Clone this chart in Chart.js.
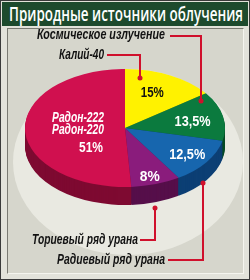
<!DOCTYPE html>
<html><head><meta charset="utf-8">
<script src="https://cdn.jsdelivr.net/npm/chart.js@4.4.1/dist/chart.umd.min.js"></script>
<style>
html,body{margin:0;padding:0;background:#e2e2da;}
#wrap{position:relative;width:250px;height:280px;box-sizing:border-box;border:1px solid #3a3a3a;background:#e2e2da;overflow:hidden;}
#title{position:absolute;left:1px;top:1px;width:246px;height:24px;background:#1d4a2d;overflow:hidden;}
#title span{position:absolute;left:7px;top:0;color:#fff;white-space:nowrap;transform-origin:0 50%;
 font:600 20px 'Open Sans','DejaVu Sans',sans-serif;line-height:24px;}
#panel{position:absolute;left:6px;top:27px;width:235px;height:244px;background:#d6d6cc;
 border-left:1px solid #7a7a72;border-top:1px solid #7a7a72;border-right:1px solid #f4f4ee;border-bottom:1px solid #f4f4ee;}
canvas{position:absolute;left:-1px;top:-1px;}
</style></head>
<body><div id="wrap">
<div id="title"><span id="tt">Природные источники облучения</span></div>
<div id="panel"></div>
<canvas id="c" width="250" height="280"></canvas>
</div>
<script>
const categories = ['Калий-40','Космическое излучение','Радиевый ряд урана','Ториевый ряд урана','Радон-222 Радон-220'];
const values = [15, 13.5, 12.5, 8, 51];
const valueLabels = ['15%','13,5%','12,5%','8%','51%'];

const topColors = ['#fff200','#0b7a3e','#1766ae','#8a1c7c','#d0104f'];
const sideColors = ['#b3a600','#064a25','#0c3f74','#560f4a','#7e0a31'];
const SY = 0.59, DEPTH = 18;

(function(){
  const t = document.getElementById('tt');
  const w = t.getBoundingClientRect().width;
  t.style.transform = 'scaleX(' + (234 / w) + ')';
})();

const labelStyle = [
  {r:0.6, dx:0, dy:-3, color:'#111', w:23},
  {r:0.69, dx:0, dy:2, color:'#fff', w:36},
  {r:0.76, dx:0, dy:1, color:'#fff', w:36},
  {r:0.8, dx:0, dy:4, color:'#fff', w:20},
  {r:0.45, dx:0, dy:0, color:'#fff', w:24}
];
const callouts = [
  {text:'Космическое излучение', x:37, w:128, y:35, line:[[170,36],[201,36],[201,101]]},
  {text:'Калий-40', x:59, w:45, y:55, line:[[107,55],[140,55],[140,78]]},
  {text:'Ториевый ряд урана', x:32, w:106, y:240, line:[[140,240],[155,240],[155,208]]},
  {text:'Радиевый ряд урана', x:57, w:108, y:260, line:[[168,260],[203,260],[203,183]]}
];

function fitText(ctx, text, x, y, w, font, color, align){
  ctx.save();
  ctx.font = font; ctx.fillStyle = color; ctx.textBaseline='middle'; ctx.textAlign='left';
  const m = ctx.measureText(text).width;
  const left = align === 'center' ? x - w/2 : x;
  ctx.translate(left, y); ctx.scale(w/m, 1);
  ctx.fillText(text, 0, 0);
  ctx.restore();
}

const pie3d = {
  id:'pie3d',
  beforeDatasetsDraw(chart){
    const ctx = chart.ctx;
    const meta = chart.getDatasetMeta(0);
    const el0 = meta.data[0];
    const cx = el0.x, cy = el0.y, R = el0.outerRadius;
    ctx.save();
    ctx.fillStyle = '#e9e9e1';
    ctx.beginPath();
    ctx.ellipse(cx+3, cy+34, R+15, R*SY+34, 0, 0, Math.PI*2);
    ctx.fill();
    for (let d = DEPTH; d >= 1; d--) {
      meta.data.forEach((el,i)=>{
        ctx.fillStyle = sideColors[i];
        ctx.beginPath();
        ctx.moveTo(cx, cy+d);
        ctx.ellipse(cx, cy+d, R, R*SY, 0, el.startAngle, el.endAngle);
        ctx.closePath();
        ctx.fill();
      });
    }
    ctx.restore();
    ctx.save();
    ctx.translate(0, cy); ctx.scale(1, SY); ctx.translate(0, -cy);
  },
  afterDatasetsDraw(chart){
    const ctx = chart.ctx;
    ctx.restore();
    const meta = chart.getDatasetMeta(0);
    const el0 = meta.data[0];
    const cx = el0.x, cy = el0.y, R = el0.outerRadius;
    const pctFont = "bold 14px 'Liberation Sans',sans-serif";
    const itFont = "italic bold 14px 'Liberation Sans',sans-serif";
    meta.data.forEach((el,i)=>{
      const a = (el.startAngle + el.endAngle)/2;
      const s = labelStyle[i];
      const x = cx + R*s.r*Math.cos(a) + s.dx;
      const y = cy + R*SY*s.r*Math.sin(a) + s.dy;
      if (i === 4) {
        const parts = categories[4].split(' ');
        fitText(ctx, parts[0], x-2, y-11, 52, itFont, s.color, 'center');
        fitText(ctx, parts[1], x-2, y+1, 52, itFont, s.color, 'center');
        fitText(ctx, valueLabels[i], x+11, y+19, s.w, pctFont, s.color, 'center');
      } else {
        fitText(ctx, valueLabels[i], x, y, s.w, pctFont, s.color, 'center');
      }
    });
    callouts.forEach(c=>{
      ctx.save();
      ctx.strokeStyle='#d0102c'; ctx.lineWidth=2; ctx.lineJoin='miter';
      ctx.beginPath();
      c.line.forEach((p,j)=> j ? ctx.lineTo(p[0],p[1]) : ctx.moveTo(p[0],p[1]));
      ctx.stroke();
      const end = c.line[c.line.length-1];
      ctx.fillStyle='#d0102c';
      ctx.beginPath(); ctx.arc(end[0], end[1], 2.5, 0, Math.PI*2); ctx.fill();
      ctx.restore();
      fitText(ctx, c.text, c.x, c.y, c.w, itFont, '#111');
    });
  }
};

new Chart(document.getElementById('c'), {
  type:'pie',
  data:{labels:categories, datasets:[{data:values, backgroundColor:topColors, borderWidth:0}]},
  options:{
    responsive:false, animation:false,
    layout:{padding:{left:25,right:25,top:28,bottom:52}},
    plugins:{legend:{display:false}, tooltip:{enabled:false}, title:{display:false}}
  },
  plugins:[pie3d]
});
</script>
</body></html>
